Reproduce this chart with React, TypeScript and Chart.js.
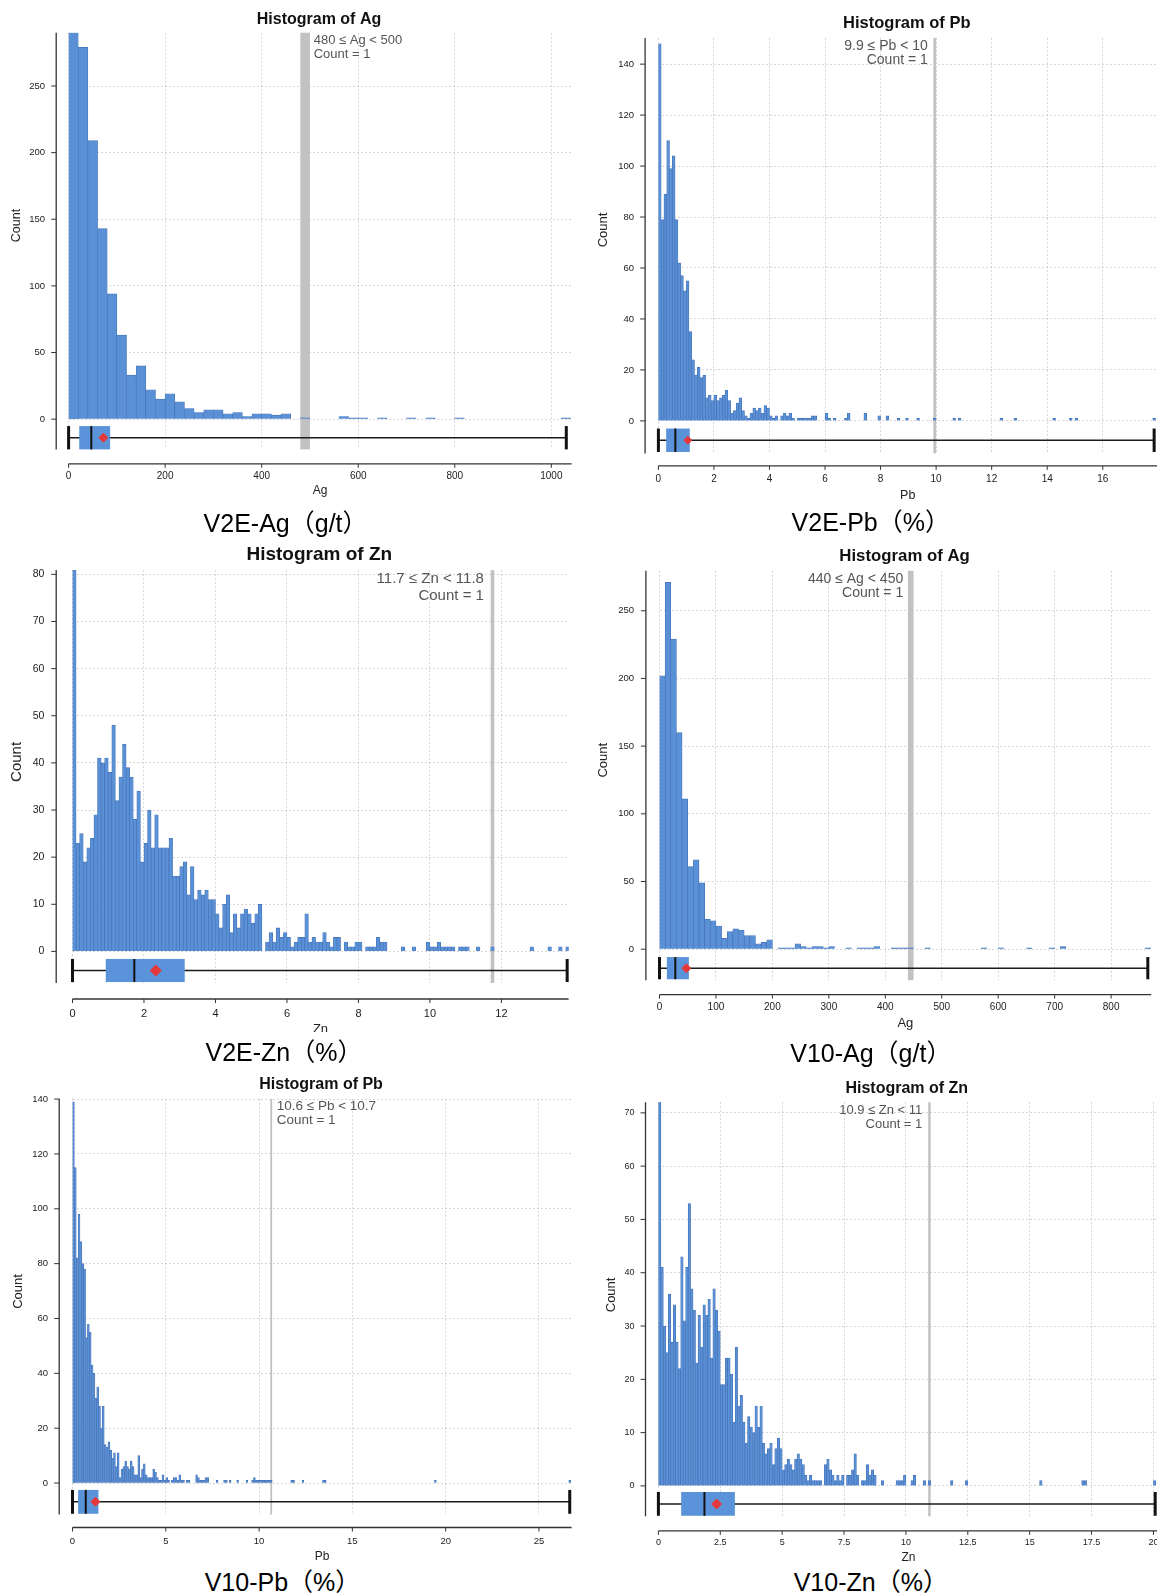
import React, { useEffect, useRef } from 'react';
import { Chart, registerables } from 'chart.js';

Chart.register(...registerables);

// ======================= DATA =======================
// V2E-Ag (g/t)
const V2E_AG_BIN_WIDTH = 20;
const V2E_AG_COUNTS = [290, 279, 209, 143, 94, 63, 33, 40, 22, 15, 19, 13, 8, 5, 7, 7, 4, 5, 2, 4, 4, 3, 4, 0, 1];
const V2E_AG_TAIL: [number, number][] = [[560, 2], [580, 1], [600, 1], [640, 1], [700, 1], [740, 1], [800, 1], [1020, 1]];
const V2E_AG_BOX = { low: 0, q1: 22, median: 47, q3: 86, high: 1031, mean: 72 };
const V2E_AG_HIGHLIGHT = [480, 500];
const V2E_AG_NOTE = ['480 ≤ Ag < 500', 'Count = 1'];
const V2E_AG_X_TICKS = [0, 200, 400, 600, 800, 1000];
const V2E_AG_Y_TICKS = [0, 50, 100, 150, 200, 250];

// V2E-Pb (%)
const V2E_PB_BIN_WIDTH = 0.1;
const V2E_PB_COUNTS = [
  148, 79, 89, 110, 99, 104, 79, 62, 57, 51,
  55, 35, 24, 18, 21, 17, 18, 9, 10, 8,
  10, 8, 9, 10, 12, 8, 3, 4, 7, 9,
  4, 2, 1, 3, 5, 4, 5, 3, 6, 5,
  2, 1, 2, 0, 2, 3, 2, 3, 1, 0,
  1, 1, 1, 1, 1, 2, 2, 0, 0, 0,
  3, 1, 0, 1, 0, 0, 0, 1, 3,
];
const V2E_PB_TAIL: [number, number][] = [[7.4, 3], [7.9, 2], [8.2, 2], [8.6, 1], [8.9, 1], [9.3, 1], [9.9, 1], [10.6, 1], [10.8, 1], [12.3, 1], [12.8, 1], [14.2, 1], [14.8, 1], [15.0, 1], [17.8, 1]];
const V2E_PB_BOX = { low: 0, q1: 0.28, median: 0.61, q3: 1.13, high: 17.85, mean: 1.06 };
const V2E_PB_HIGHLIGHT = [9.9, 10.0];
const V2E_PB_NOTE = ['9.9 ≤ Pb < 10', 'Count = 1'];
const V2E_PB_X_TICKS = [0, 2, 4, 6, 8, 10, 12, 14, 16];
const V2E_PB_Y_TICKS = [0, 20, 40, 60, 80, 100, 120, 140];

// V2E-Zn (%)
const V2E_ZN_BIN_WIDTH = 0.1;
const V2E_ZN_COUNTS = [
  81, 23, 25, 19, 22, 24, 29, 41, 40, 41,
  38, 48, 32, 37, 44, 39, 37, 28, 34, 19,
  23, 30, 22, 29, 22, 22, 22, 24, 16, 16,
  18, 19, 12, 18, 11, 13, 12, 13, 11, 11,
  8, 5, 10, 12, 4, 8, 5, 8, 9, 8,
  6, 8, 10, 0, 2, 4, 2, 5, 3, 4,
  3, 1, 2, 3, 3, 8, 2, 3, 2, 2,
  4, 2, 1, 3, 3, 0, 2, 1, 1, 2,
  2, 0, 1, 1, 1, 3, 2, 2,
];
const V2E_ZN_TAIL: [number, number][] = [[9.2, 1], [9.5, 1], [9.9, 2], [10.0, 1], [10.1, 1], [10.2, 2], [10.3, 1], [10.4, 1], [10.5, 1], [10.6, 1], [10.8, 1], [10.9, 1], [11.0, 1], [11.3, 1], [11.7, 1], [12.8, 1], [13.3, 1], [13.6, 1], [13.8, 1]];
const V2E_ZN_BOX = { low: 0, q1: 0.93, median: 1.73, q3: 3.14, high: 13.84, mean: 2.33 };
const V2E_ZN_HIGHLIGHT = [11.7, 11.8];
const V2E_ZN_NOTE = ['11.7 ≤ Zn < 11.8', 'Count = 1'];
const V2E_ZN_X_TICKS = [0, 2, 4, 6, 8, 10, 12];
const V2E_ZN_Y_TICKS = [0, 10, 20, 30, 40, 50, 60, 70, 80];

// V10-Ag (g/t)
const V10_AG_BIN_WIDTH = 10;
const V10_AG_COUNTS = [202, 271, 229, 160, 111, 61, 66, 49, 22, 21, 17, 8, 13, 15, 14, 10, 10, 4, 5, 7, 0, 1, 1, 1, 4, 2, 1, 2, 2, 1, 2];
const V10_AG_TAIL: [number, number][] = [[330, 1], [350, 1], [360, 1], [370, 1], [380, 2], [410, 1], [420, 1], [430, 1], [440, 1], [470, 1], [570, 1], [600, 1], [650, 1], [690, 1], [710, 2], [860, 1]];
const V10_AG_BOX = { low: 0, q1: 13, median: 28, q3: 52, high: 865, mean: 47.6 };
const V10_AG_HIGHLIGHT = [440, 450];
const V10_AG_NOTE = ['440 ≤ Ag < 450', 'Count = 1'];
const V10_AG_X_TICKS = [0, 100, 200, 300, 400, 500, 600, 700, 800];
const V10_AG_Y_TICKS = [0, 50, 100, 150, 200, 250];

// V10-Pb (%)
const V10_PB_BIN_WIDTH = 0.1;
const V10_PB_COUNTS = [
  139, 115, 82, 98, 88, 80, 78, 53, 58, 55,
  43, 40, 31, 35, 28, 20, 28, 14, 13, 15,
  12, 9, 11, 6, 11, 2, 5, 6, 8, 6,
  5, 8, 6, 3, 3, 10, 2, 5, 7, 3,
  2, 2, 2, 5, 4, 2, 1, 1, 3, 1,
  2, 1, 0, 1, 2, 2, 1, 3, 1, 1,
  0, 1, 1, 0, 0, 0, 3, 2, 1, 1,
  1, 2, 2,
];
const V10_PB_TAIL: [number, number][] = [[7.7, 1], [8.1, 1], [8.2, 1], [8.4, 1], [8.8, 1], [9.3, 1], [9.6, 1], [9.7, 2], [9.8, 1], [9.9, 1], [10.0, 1], [10.1, 1], [10.2, 1], [10.3, 1], [10.4, 1], [10.5, 1], [10.6, 1], [11.7, 1], [11.8, 1], [12.3, 1], [13.4, 1], [13.5, 1], [19.4, 1], [26.6, 1]];
const V10_PB_BOX = { low: 0, q1: 0.30, median: 0.71, q3: 1.39, high: 26.65, mean: 1.23 };
const V10_PB_HIGHLIGHT = [10.6, 10.7];
const V10_PB_NOTE = ['10.6 ≤ Pb < 10.7', 'Count = 1'];
const V10_PB_X_TICKS = [0, 5, 10, 15, 20, 25];
const V10_PB_Y_TICKS = [0, 20, 40, 60, 80, 100, 120, 140];

// V10-Zn (%)
const V10_ZN_BIN_WIDTH = 0.1;
const V10_ZN_COUNTS = [
  72, 41, 30, 25, 36, 27, 34, 27, 22, 43,
  31, 41, 53, 37, 33, 23, 32, 26, 34, 32,
  35, 24, 37, 33, 29, 19, 19, 24, 24, 21,
  12, 26, 15, 17, 12, 8, 13, 11, 10, 15,
  11, 15, 8, 6, 7, 8, 4, 7, 9, 7,
  3, 4, 5, 4, 3, 5, 6, 5, 4, 2,
  1, 2, 1, 1, 1, 1, 0, 4, 5, 3,
  2, 1, 2, 1, 2, 0, 2, 2, 3, 6,
  2, 0, 1, 1, 4, 2, 3, 2,
];
const V10_ZN_TAIL: [number, number][] = [[9.0, 1], [9.6, 1], [9.7, 1], [9.8, 1], [9.9, 2], [10.2, 1], [10.3, 2], [10.7, 1], [10.9, 1], [11.8, 1], [12.4, 1], [15.4, 1], [17.1, 1], [17.2, 1], [20.0, 1]];
const V10_ZN_BOX = { low: 0, q1: 0.92, median: 1.86, q3: 3.09, high: 20.07, mean: 2.35 };
const V10_ZN_HIGHLIGHT = [10.9, 11.0];
const V10_ZN_NOTE = ['10.9 ≤ Zn < 11', 'Count = 1'];
const V10_ZN_X_TICKS = [0, 2.5, 5, 7.5, 10, 12.5, 15, 17.5, 20];
const V10_ZN_Y_TICKS = [0, 10, 20, 30, 40, 50, 60, 70];

// ======================= STYLE / LAYOUT =======================
const FONT = '"Liberation Sans", Arial, Helvetica, sans-serif';
const CAPTION_FONT = '"Liberation Sans", Arial, "Noto Sans CJK SC", sans-serif';
const BAR_FILL = '#5a90d6';
const BAR_EDGE = '#4573b8';
const BOX_FILL = '#5b93da';
const MEAN_COLOR = '#e5383b';
const BAND_COLOR = '#c2c2c2';
const GRID_COLOR = '#cccccc';
const SPINE_COLOR = '#333333';

type Box = { low: number; q1: number; median: number; q3: number; high: number; mean: number };

interface Layout {
  canvas: { x: number; y: number; w: number; h: number };
  area: { L: number; R: number; T: number; B: number };
  xRange: [number, number];
  yRange: [number, number];
  ySpineX: number;
  xSpineY: number;
  yLabelRight: number;
  xLabelCY: number;
  xTickFont: number;
  yTickFont: number;
  titlePos: { x: number; y: number; size: number };
  xTitlePos: { x: number; y: number; size: number };
  yTitlePos: { x: number; y: number; size: number };
  notePos: { x: number; y1: number; y2: number; align: 'left' | 'right'; size: number };
  boxY: [number, number];
  diamond: number;
  captionPos: { x: number; y: number };
}

interface PanelSpec {
  title: string;
  xTitle: string;
  caption: string;
  binWidth: number;
  counts: number[];
  tail: [number, number][];
  box: Box;
  highlight: number[];
  note: string[];
  xTicks: number[];
  yTicks: number[];
  layout: Layout;
}

const PANELS: PanelSpec[] = [
  {
    title: 'Histogram of Ag', xTitle: 'Ag', caption: 'V2E-Ag（g/t）',
    binWidth: V2E_AG_BIN_WIDTH, counts: V2E_AG_COUNTS, tail: V2E_AG_TAIL, box: V2E_AG_BOX,
    highlight: V2E_AG_HIGHLIGHT, note: V2E_AG_NOTE, xTicks: V2E_AG_X_TICKS, yTicks: V2E_AG_Y_TICKS,
    layout: {
      canvas: { x: 0, y: 0, w: 578, h: 505 },
      area: { L: 68.6, R: 571.6, T: 32.7, B: 449.4 },
      xRange: [0, 1042], yRange: [-22.7, 290],
      ySpineX: 56.2, xSpineY: 463.8, yLabelRight: 45.1, xLabelCY: 475.9,
      xTickFont: 10, yTickFont: 9.5,
      titlePos: { x: 319, y: 19.6, size: 16 },
      xTitlePos: { x: 320, y: 490.7, size: 12 },
      yTitlePos: { x: 16.6, y: 225.5, size: 12.5 },
      notePos: { x: 313.7, y1: 40.6, y2: 54, align: 'left', size: 13 },
      boxY: [-5.2, -22.7], diamond: 5,
      captionPos: { x: 285.6, y: 523 },
    },
  },
  {
    title: 'Histogram of Pb', xTitle: 'Pb', caption: 'V2E-Pb（%）',
    binWidth: V2E_PB_BIN_WIDTH, counts: V2E_PB_COUNTS, tail: V2E_PB_TAIL, box: V2E_PB_BOX,
    highlight: V2E_PB_HIGHLIGHT, note: V2E_PB_NOTE, xTicks: V2E_PB_X_TICKS, yTicks: V2E_PB_Y_TICKS,
    layout: {
      canvas: { x: 578, y: 0, w: 592, h: 505 },
      area: { L: 658.4, R: 1158.3, T: 37.9, B: 453.5 },
      xRange: [0, 18.0], yRange: [-12.8, 150.3],
      ySpineX: 645.1, xSpineY: 465.9, yLabelRight: 634.1, xLabelCY: 479.3,
      xTickFont: 10, yTickFont: 9.5,
      titlePos: { x: 906.8, y: 23.4, size: 16.5 },
      xTitlePos: { x: 907.7, y: 495.9, size: 12.5 },
      yTitlePos: { x: 603.2, y: 230, size: 13 },
      notePos: { x: 927.8, y1: 45.8, y2: 60.6, align: 'right', size: 14 },
      boxY: [-3.0, -12.2], diamond: 4.5,
      captionPos: { x: 870.8, y: 521.7 },
    },
  },
  {
    title: 'Histogram of Zn', xTitle: 'Zn', caption: 'V2E-Zn（%）',
    binWidth: V2E_ZN_BIN_WIDTH, counts: V2E_ZN_COUNTS, tail: V2E_ZN_TAIL, box: V2E_ZN_BOX,
    highlight: V2E_ZN_HIGHLIGHT, note: V2E_ZN_NOTE, xTicks: V2E_ZN_X_TICKS, yTicks: V2E_ZN_Y_TICKS,
    layout: {
      canvas: { x: 0, y: 535, w: 578, h: 497 },
      area: { L: 72.5, R: 568.6, T: 570.1, B: 983 },
      xRange: [0, 13.88], yRange: [-6.7, 80.9],
      ySpineX: 56.2, xSpineY: 999, yLabelRight: 44.4, xLabelCY: 1013.7,
      xTickFont: 11, yTickFont: 10.5,
      titlePos: { x: 319.3, y: 554.4, size: 19 },
      xTitlePos: { x: 320.5, y: 1029.7, size: 13 },
      yTitlePos: { x: 16.6, y: 761.9, size: 15 },
      notePos: { x: 483.9, y1: 578.7, y2: 595.7, align: 'right', size: 15 },
      boxY: [-1.6, -6.5], diamond: 6,
      captionPos: { x: 284, y: 1052 },
    },
  },
  {
    title: 'Histogram of Ag', xTitle: 'Ag', caption: 'V10-Ag（g/t）',
    binWidth: V10_AG_BIN_WIDTH, counts: V10_AG_COUNTS, tail: V10_AG_TAIL, box: V10_AG_BOX,
    highlight: V10_AG_HIGHLIGHT, note: V10_AG_NOTE, xTicks: V10_AG_X_TICKS, yTicks: V10_AG_Y_TICKS,
    layout: {
      canvas: { x: 578, y: 535, w: 592, h: 500 },
      area: { L: 659.5, R: 1151.2, T: 570.8, B: 980.2 },
      xRange: [0, 871], yRange: [-22.9, 279.5],
      ySpineX: 645.9, xSpineY: 994.6, yLabelRight: 634.1, xLabelCY: 1007.5,
      xTickFont: 10, yTickFont: 9.5,
      titlePos: { x: 904.6, y: 556.2, size: 16.8 },
      xTitlePos: { x: 905.4, y: 1023.6, size: 13 },
      yTitlePos: { x: 603.9, y: 760.2, size: 13 },
      notePos: { x: 903.2, y1: 578.7, y2: 593.3, align: 'right', size: 14 },
      boxY: [-5.8, -22.2], diamond: 5,
      captionPos: { x: 870.8, y: 1052.9 },
    },
  },
  {
    title: 'Histogram of Pb', xTitle: 'Pb', caption: 'V10-Pb（%）',
    binWidth: V10_PB_BIN_WIDTH, counts: V10_PB_COUNTS, tail: V10_PB_TAIL, box: V10_PB_BOX,
    highlight: V10_PB_HIGHLIGHT, note: V10_PB_NOTE, xTicks: V10_PB_X_TICKS, yTicks: V10_PB_Y_TICKS,
    layout: {
      canvas: { x: 0, y: 1065, w: 578, h: 500 },
      area: { L: 72.5, R: 571.6, T: 1098.8, B: 1514.6 },
      xRange: [0, 26.75], yRange: [-11.5, 140.1],
      ySpineX: 59.2, xSpineY: 1527.5, yLabelRight: 48.1, xLabelCY: 1541.7,
      xTickFont: 9.5, yTickFont: 9.5,
      titlePos: { x: 321.1, y: 1084.3, size: 16 },
      xTitlePos: { x: 322, y: 1556.2, size: 12 },
      yTitlePos: { x: 18.5, y: 1291.5, size: 13 },
      notePos: { x: 276.7, y1: 1106.2, y2: 1120.1, align: 'left', size: 13.5 },
      boxY: [-2.5, -11.2], diamond: 5,
      captionPos: { x: 282.5, y: 1582.2 },
    },
  },
  {
    title: 'Histogram of Zn', xTitle: 'Zn', caption: 'V10-Zn（%）',
    binWidth: V10_ZN_BIN_WIDTH, counts: V10_ZN_COUNTS, tail: V10_ZN_TAIL, box: V10_ZN_BOX,
    highlight: V10_ZN_HIGHLIGHT, note: V10_ZN_NOTE, xTicks: V10_ZN_X_TICKS, yTicks: V10_ZN_Y_TICKS,
    layout: {
      canvas: { x: 578, y: 1065, w: 592, h: 500 },
      area: { L: 658.4, R: 1158.4, T: 1102.2, B: 1516.3 },
      xRange: [0, 20.2], yRange: [-5.7, 72],
      ySpineX: 645.5, xSpineY: 1530.9, yLabelRight: 634.5, xLabelCY: 1542.7,
      xTickFont: 9, yTickFont: 9,
      titlePos: { x: 906.8, y: 1088.7, size: 16 },
      xTitlePos: { x: 908.4, y: 1557.6, size: 12 },
      yTitlePos: { x: 611.3, y: 1294.9, size: 13 },
      notePos: { x: 922.3, y1: 1110, y2: 1124.2, align: 'right', size: 13 },
      boxY: [-1.14, -5.6], diamond: 5.5,
      captionPos: { x: 870.8, y: 1582.2 },
    },
  },
];

function buildBars(width: number, counts: number[], tail: [number, number][]) {
  const pts: { x: number; y: number }[] = [];
  counts.forEach((c, i) => {
    if (c > 0) pts.push({ x: +((i + 0.5) * width).toFixed(5), y: c });
  });
  tail.forEach(([s, c]) => pts.push({ x: +(s + width / 2).toFixed(5), y: c }));
  return pts;
}

function makeOverlay(spec: PanelSpec) {
  const L = spec.layout;
  const ox = L.canvas.x;
  const oy = L.canvas.y;
  const line = (ctx: CanvasRenderingContext2D, x1: number, y1: number, x2: number, y2: number) => {
    ctx.beginPath();
    ctx.moveTo(x1, y1);
    ctx.lineTo(x2, y2);
    ctx.stroke();
  };
  return {
    id: 'overlay',
    beforeDatasetsDraw(chart: any) {
      const { ctx, chartArea: a, scales } = chart;
      const x1 = scales.x.getPixelForValue(spec.highlight[0]);
      const x2 = scales.x.getPixelForValue(spec.highlight[1]);
      ctx.save();
      ctx.fillStyle = BAND_COLOR;
      ctx.fillRect(x1, a.top, Math.max(x2 - x1, 1.6), a.bottom - a.top);
      ctx.restore();
    },
    afterDatasetsDraw(chart: any) {
      const { ctx, scales } = chart;
      const xs = scales.x;
      const ys = scales.y;
      const b = spec.box;
      const px = (v: number) => xs.getPixelForValue(v);
      const yTop = ys.getPixelForValue(L.boxY[0]);
      const yBot = ys.getPixelForValue(L.boxY[1]);
      const yMid = (yTop + yBot) / 2;
      ctx.save();
      ctx.strokeStyle = '#1a1a1a';
      ctx.lineWidth = 1.5;
      line(ctx, px(b.low), yMid, px(b.high), yMid);
      ctx.fillStyle = BOX_FILL;
      ctx.fillRect(px(b.q1), yTop, px(b.q3) - px(b.q1), yBot - yTop);
      ctx.strokeStyle = '#111';
      ctx.lineWidth = 2;
      line(ctx, px(b.median), yTop, px(b.median), yBot);
      ctx.lineWidth = 3;
      line(ctx, px(b.low), yTop, px(b.low), yBot);
      line(ctx, px(b.high), yTop, px(b.high), yBot);
      const mx = px(b.mean);
      const d = L.diamond;
      ctx.fillStyle = MEAN_COLOR;
      ctx.beginPath();
      ctx.moveTo(mx, yMid - d);
      ctx.lineTo(mx + d, yMid);
      ctx.lineTo(mx, yMid + d);
      ctx.lineTo(mx - d, yMid);
      ctx.closePath();
      ctx.fill();
      ctx.restore();
    },
    afterDraw(chart: any) {
      const { ctx, chartArea: a, scales } = chart;
      const xs = scales.x;
      const ys = scales.y;
      ctx.save();
      // spines
      ctx.strokeStyle = SPINE_COLOR;
      ctx.lineWidth = 1.3;
      const sx = L.ySpineX - ox;
      const sy = L.xSpineY - oy;
      line(ctx, sx, a.top, sx, a.bottom);
      line(ctx, a.left, sy, a.right, sy);
      ctx.lineWidth = 1;
      spec.yTicks.forEach((v) => {
        const p = ys.getPixelForValue(v);
        line(ctx, sx - 5, p, sx, p);
      });
      spec.xTicks.forEach((v) => {
        const p = xs.getPixelForValue(v);
        line(ctx, p, sy, p, sy + 4);
      });
      // title
      ctx.fillStyle = '#111';
      ctx.textAlign = 'center';
      ctx.textBaseline = 'middle';
      ctx.font = `bold ${L.titlePos.size}px ${FONT}`;
      ctx.fillText(spec.title, L.titlePos.x - ox, L.titlePos.y - oy);
      // x title
      ctx.fillStyle = '#222';
      ctx.font = `${L.xTitlePos.size}px ${FONT}`;
      ctx.fillText(spec.xTitle, L.xTitlePos.x - ox, L.xTitlePos.y - oy);
      // y title
      ctx.save();
      ctx.translate(L.yTitlePos.x - ox, L.yTitlePos.y - oy);
      ctx.rotate(-Math.PI / 2);
      ctx.font = `${L.yTitlePos.size}px ${FONT}`;
      ctx.fillText('Count', 0, 0);
      ctx.restore();
      // note
      ctx.fillStyle = '#555';
      ctx.font = `${L.notePos.size}px ${FONT}`;
      ctx.textAlign = L.notePos.align;
      ctx.fillText(spec.note[0], L.notePos.x - ox, L.notePos.y1 - oy);
      ctx.fillText(spec.note[1], L.notePos.x - ox, L.notePos.y2 - oy);
      ctx.restore();
    },
  };
}

function Panel({ spec }: { spec: PanelSpec }) {
  const ref = useRef<HTMLCanvasElement>(null);
  const L = spec.layout;
  useEffect(() => {
    const canvas = ref.current;
    if (!canvas) return;
    const ox = L.canvas.x;
    const oy = L.canvas.y;
    const left = L.area.L - ox;
    const right = L.area.R - ox;
    const top = L.area.T - oy;
    const bottom = L.area.B - oy;
    const chart = new Chart(canvas, {
      type: 'bar',
      data: {
        datasets: [
          {
            data: buildBars(spec.binWidth, spec.counts, spec.tail),
            backgroundColor: BAR_FILL,
            borderColor: BAR_EDGE,
            borderWidth: 0.7,
            barPercentage: 1,
            categoryPercentage: 1,
          },
        ],
      },
      options: {
        responsive: false,
        animation: false,
        devicePixelRatio: 1,
        events: [],
        layout: { padding: { left: 0, top, right: L.canvas.w - right, bottom: 0 } },
        plugins: { legend: { display: false }, tooltip: { enabled: false }, title: { display: false } },
        scales: {
          x: {
            type: 'linear',
            min: L.xRange[0],
            max: L.xRange[1],
            offset: false,
            afterBuildTicks: (axis: any) => {
              axis.ticks = spec.xTicks.map((v) => ({ value: v }));
            },
            afterFit: (s: any) => {
              s.height = L.canvas.h - bottom;
              s.paddingLeft = 0;
              s.paddingRight = 0;
            },
            ticks: {
              autoSkip: false,
              maxRotation: 0,
              minRotation: 0,
              padding: L.xLabelCY - L.area.B - L.xTickFont * 0.6,
              color: '#222',
              font: { family: FONT, size: L.xTickFont },
              callback: (v: any) => String(v),
            },
            grid: { color: GRID_COLOR, lineWidth: 0.8, drawTicks: false, offset: false },
            border: { display: false, dash: [2, 2] },
          },
          y: {
            type: 'linear',
            min: L.yRange[0],
            max: L.yRange[1],
            afterBuildTicks: (axis: any) => {
              axis.ticks = spec.yTicks.map((v) => ({ value: v }));
            },
            afterFit: (s: any) => {
              s.width = left;
              s.paddingTop = 0;
              s.paddingBottom = 0;
            },
            ticks: {
              autoSkip: false,
              padding: L.area.L - L.yLabelRight,
              color: '#222',
              font: { family: FONT, size: L.yTickFont },
              callback: (v: any) => String(v),
            },
            grid: { color: GRID_COLOR, lineWidth: 0.8, drawTicks: false },
            border: { display: false, dash: [2, 2] },
          },
        },
      },
      plugins: [makeOverlay(spec)],
    } as any);
    return () => chart.destroy();
  }, [spec]);
  return (
    <canvas
      ref={ref}
      width={L.canvas.w}
      height={L.canvas.h}
      style={{ position: 'absolute', left: L.canvas.x, top: L.canvas.y, width: L.canvas.w, height: L.canvas.h }}
    />
  );
}

export default function App() {
  return (
    <div
      style={{
        position: 'absolute',
        left: 0,
        top: 0,
        width: 1157,
        height: 1595,
        overflow: 'hidden',
        background: '#ffffff',
      }}
    >
      {PANELS.map((p, i) => (
        <Panel key={i} spec={p} />
      ))}
      {PANELS.map((p, i) => (
        <div
          key={'c' + i}
          style={{
            position: 'absolute',
            left: p.layout.captionPos.x,
            top: p.layout.captionPos.y,
            transform: 'translate(-50%, -50%)',
            fontFamily: CAPTION_FONT,
            fontSize: 25,
            lineHeight: '30px',
            color: '#000',
            whiteSpace: 'nowrap',
          }}
        >
          {p.caption}
        </div>
      ))}
    </div>
  );
}
